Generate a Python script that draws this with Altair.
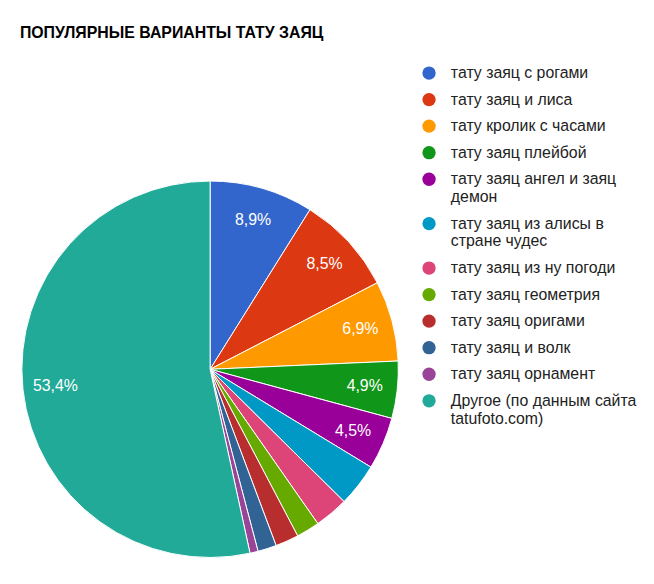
import altair as alt
import pandas as pd

TITLE = "ПОПУЛЯРНЫЕ ВАРИАНТЫ ТАТУ ЗАЯЦ"
CATEGORIES = [
    "тату заяц с рогами",
    "тату заяц и лиса",
    "тату кролик с часами",
    "тату заяц плейбой",
    "тату заяц ангел и заяц демон",
    "тату заяц из алисы в стране чудес",
    "тату заяц из ну погоди",
    "тату заяц геометрия",
    "тату заяц оригами",
    "тату заяц и волк",
    "тату заяц орнамент",
    "Другое (по данным сайта tatufoto.com)",
]
SHARES = [8.9, 8.5, 6.9, 4.9, 4.5, 3.7, 2.9, 2.0, 2.0, 1.6, 0.7, 53.4]
COLORS = [
    "#3366cc", "#dc3912", "#ff9900", "#109618", "#990099", "#0099c6",
    "#dd4477", "#66aa00", "#b82e2e", "#316395", "#994499", "#22aa99",
]
# legend entries that wrap onto a second line, as in the original
WRAPPED = {
    "тату заяц ангел и заяц демон": ["тату заяц ангел и заяц", "демон"],
    "тату заяц из алисы в стране чудес": ["тату заяц из алисы в", "стране чудес"],
    "Другое (по данным сайта tatufoto.com)": ["Другое (по данным сайта", "tatufoto.com)"],
}

FONT = "Liberation Sans"
CX, CY, R = 190, 323, 190

df = pd.DataFrame({"category": CATEGORIES, "share": SHARES, "idx": range(len(SHARES))})

label_expr = " : ".join(
    f"datum.label == '{k}' ? ['{v[0]}', '{v[1]}']" for k, v in WRAPPED.items()
) + " : datum.label"

base = alt.Chart(df).encode(
    theta=alt.Theta("share:Q", stack=True),
    order=alt.Order("idx:Q"),
)

slices = base.mark_arc(stroke="white", strokeWidth=1).encode(
    x=alt.value(CX),
    y=alt.value(CY),
    radius=alt.value(R),
    color=alt.Color(
        "category:N",
        scale=alt.Scale(domain=CATEGORIES, range=COLORS),
        sort=CATEGORIES,
        legend=alt.Legend(
            title=None,
            orient="none",
            legendX=403,
            legendY=16,
            symbolType="circle",
            symbolSize=180,
            symbolStrokeWidth=0,
            labelFont=FONT,
            labelFontSize=16,
            labelColor="#222222",
            labelOffset=14,
            labelLimit=240,
            labelExpr=label_expr,
            rowPadding=10.8,
        ),
    ),
)

# small slices carry no label, so blank them instead of filtering the stack
labels = (
    base.transform_calculate(
        txt="datum.share >= 4 ? replace(format(datum.share, '.1f'), '.', ',') + '%' : ''"
    )
    .mark_text(font=FONT, fontSize=16, color="white")
    .encode(
        x=alt.value(CX),
        y=alt.value(CY),
        radius=alt.value(157),
        text="txt:N",
    )
)

chart = (
    (slices + labels)
    .properties(
        width=630,
        height=530,
        padding={"left": 12, "top": 15, "right": 0, "bottom": 0},
        title=alt.TitleParams(
            TITLE,
            anchor="start",
            font=FONT,
            fontSize=16,
            fontWeight="bold",
            color="#000000",
            offset=8,
        ),
    )
    .configure_view(stroke=None)
    .configure_legend(symbolType="circle")
)

chart.save("out.html", embed_options={"renderer": "svg", "actions": False})
